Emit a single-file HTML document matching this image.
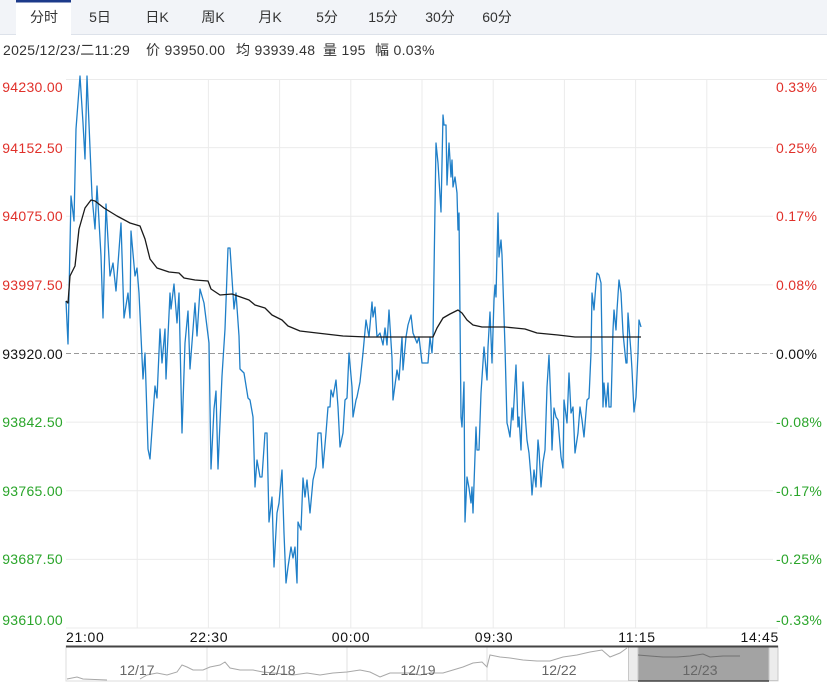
<!DOCTYPE html>
<html><head><meta charset="utf-8"><style>
html,body{margin:0;padding:0;background:#fff;}
svg{display:block;}
text{font-family:"Liberation Sans","Noto Sans CJK SC",sans-serif;}
</style></head><body>
<svg width="827" height="686" viewBox="0 0 827 686" xmlns="http://www.w3.org/2000/svg">
<!-- tab bar -->
<rect x="0" y="0" width="827" height="34" fill="#f2f4f8"/>
<line x1="0" y1="34.5" x2="827" y2="34.5" stroke="#dde2ea" stroke-width="1"/>
<rect x="16" y="0" width="55" height="35" fill="#fff"/>
<rect x="16" y="0" width="55" height="2.5" fill="#1c3a8a"/>
<g font-size="14" fill="#333" text-anchor="middle">
<text x="44" y="22">分时</text>
<text x="100" y="22">5日</text>
<text x="157" y="22">日K</text>
<text x="213" y="22">周K</text>
<text x="270" y="22">月K</text>
<text x="327" y="22">5分</text>
<text x="383" y="22">15分</text>
<text x="440" y="22">30分</text>
<text x="497" y="22">60分</text>
</g>
<!-- info line -->
<g font-size="14" fill="#333">
<text x="3" y="55" letter-spacing="0.3">2025/12/23/二11:29</text>
<text x="146" y="55" letter-spacing="0.3">价 93950.00</text>
<text x="236" y="55" letter-spacing="0.3">均 93939.48</text>
<text x="323" y="55" letter-spacing="0.3">量 195</text>
<text x="375" y="55" letter-spacing="0.3">幅 0.03%</text>
</g>
<!-- grid -->
<g stroke="#ebebeb" stroke-width="1">
<line x1="66" y1="79.5" x2="827" y2="79.5"/>
<line x1="66" y1="147.6" x2="773" y2="147.6"/>
<line x1="66" y1="216.3" x2="773" y2="216.3"/>
<line x1="66" y1="284.9" x2="773" y2="284.9"/>
<line x1="66" y1="422.1" x2="773" y2="422.1"/>
<line x1="66" y1="490.8" x2="773" y2="490.8"/>
<line x1="66" y1="559.4" x2="773" y2="559.4"/>
<line x1="66" y1="628" x2="778" y2="628"/>
<line x1="137.2" y1="79" x2="137.2" y2="628"/>
<line x1="208.4" y1="79" x2="208.4" y2="628"/>
<line x1="279.6" y1="79" x2="279.6" y2="628"/>
<line x1="350.8" y1="79" x2="350.8" y2="628"/>
<line x1="422" y1="79" x2="422" y2="628"/>
<line x1="493.2" y1="79" x2="493.2" y2="628"/>
<line x1="564.4" y1="79" x2="564.4" y2="628"/>
<line x1="635.6" y1="79" x2="635.6" y2="628"/>
<line x1="706.8" y1="79" x2="706.8" y2="628"/>
</g>
<line x1="66" y1="353.5" x2="773" y2="353.5" stroke="#999" stroke-width="1" stroke-dasharray="5,3"/>
<!-- price line -->
<polyline fill="none" stroke="#1f7fc8" stroke-width="1.3" stroke-linejoin="round" points="66,301 68,344 71,196 74,221 76,129 80,76 83,123 85,159 87,76 92,196 95,229 97,186 101,256 103,318 106,204 110,276 113,263 116,291 121,223 124,318 128,293 130,318 131,231 135,276 137,268 139,293 143,379 145,353 148,449 150,459 155,386 157,398 160,329 162,363 165,329 166,379 170,293 171,309 174,284 177,323 179,293 182,433 185,343 188,311 190,369 195,303 197,336 200,289 204,303 209,343 211,469 214,409 216,391 218,469 222,376 225,329 228,248 230,248 234,309 236,293 239,336 240,369 244,373 248,398 250,400 253,417 255,487 257,460 260,477 262,477 265,433 267,433 269,522 272,497 274,567 277,513 279,503 282,470 284,533 286,583 288,567 291,547 293,558 295,547 297,583 298,522 301,530 303,478 305,497 307,480 310,513 313,480 316,467 318,433 321,433 323,468 326,433 328,407 330,407 331,390 333,397 336,380 338,407 340,447 343,433 345,400 347,398 349,353 352,387 353,417 356,400 357,397 360,382 363,353 366,320 369,337 372,302 373,317 375,307 377,337 380,333 383,345 385,328 387,345 389,310 392,358 393,400 397,370 399,380 402,337 403,370 406,337 408,325 411,315 413,333 417,343 419,337 422,363 425,363 428,363 430,337 432,353 433,337 436,143 438,163 441,212 443,115 444,125 446,125 447,185 449,143 451,177 452,160 453,187 455,177 457,193 458,230 459,213 461,417 462,427 464,382 465,522 467,477 469,488 471,503 472,487 473,513 476,427 477,450 479,450 481,393 484,347 487,380 488,347 490,312 492,363 494,300 495,285 496,297 498,213 499,257 501,240 502,255 505,347 507,423 508,427 510,437 512,408 513,420 516,365 518,427 519,417 521,450 523,382 525,413 527,440 529,453 531,477 532,495 534,470 536,487 538,440 539,450 541,487 543,462 545,450 547,387 549,355 551,407 552,450 554,408 556,417 558,420 561,457 563,468 564,400 567,423 569,373 571,413 573,407 575,453 578,433 580,407 582,420 584,437 587,400 589,398 591,353 592,293 594,310 596,283 597,273 599,275 601,283 603,407 604,383 606,407 608,383 609,407 611,407 613,330 614,310 616,330 617,310 619,280 621,293 623,333 624,343 626,363 627,363 628,313 631,353 632,370 634,412 636,397 638,353 639,320 641,327"/>
<!-- average line -->
<polyline fill="none" stroke="#1a1a1a" stroke-width="1.3" stroke-linejoin="round" points="66,301 68,303 70,276 75,266 79,229 85,208 91,200 95,201 104,208 117,216 130,223 140,226 145,239 150,259 157,268 169,272 179,273 184,278 195,280 208,281 211,289 220,295 232,294 249,300 255,305 265,308 272,315 282,320 288,326 300,331 317,333 343,336 367,337 433,337 437,328 443,318 450,314 458,310 462,313 467,320 473,325 482,327 492,327 505,327 515,328 525,329 537,333 558,335 575,337 592,337 598,337 641,337"/>
<!-- left axis labels -->
<g font-size="14" text-anchor="end" letter-spacing="0.3">
<text x="63" y="92" fill="#e0302a">94230.00</text>
<text x="63" y="153" fill="#e0302a">94152.50</text>
<text x="63" y="221" fill="#e0302a">94075.00</text>
<text x="63" y="290" fill="#e0302a">93997.50</text>
<text x="63" y="359" fill="#111">93920.00</text>
<text x="63" y="427" fill="#2aa52a">93842.50</text>
<text x="63" y="496" fill="#2aa52a">93765.00</text>
<text x="63" y="564" fill="#2aa52a">93687.50</text>
<text x="63" y="625" fill="#2aa52a">93610.00</text>
</g>
<!-- right axis labels -->
<g font-size="14" letter-spacing="0.3">
<text x="776" y="92" fill="#e0302a">0.33%</text>
<text x="776" y="153" fill="#e0302a">0.25%</text>
<text x="776" y="221" fill="#e0302a">0.17%</text>
<text x="776" y="290" fill="#e0302a">0.08%</text>
<text x="776" y="359" fill="#111">0.00%</text>
<text x="776" y="427" fill="#2aa52a">-0.08%</text>
<text x="776" y="496" fill="#2aa52a">-0.17%</text>
<text x="776" y="564" fill="#2aa52a">-0.25%</text>
<text x="776" y="625" fill="#2aa52a">-0.33%</text>
</g>
<!-- time axis -->
<g font-size="14" fill="#111" letter-spacing="0.7">
<text x="66" y="642">21:00</text>
<text x="209" y="642" text-anchor="middle">22:30</text>
<text x="351" y="642" text-anchor="middle">00:00</text>
<text x="494" y="642" text-anchor="middle">09:30</text>
<text x="637" y="642" text-anchor="middle">11:15</text>
<text x="779" y="642" text-anchor="end">14:45</text>
</g>
<!-- navigator -->
<rect x="66" y="646" width="712" height="35" fill="#fff" stroke="#ddd" stroke-width="1"/>
<g stroke="#e2e2e2" stroke-width="1">
<line x1="207" y1="647" x2="207" y2="681"/>
<line x1="347" y1="647" x2="347" y2="681"/>
<line x1="487" y1="647" x2="487" y2="681"/>
</g>
<rect x="638" y="647" width="131" height="34" fill="#a3a3a3"/>
<rect x="628.5" y="646.5" width="9.5" height="34" fill="#ececec" stroke="#c8c8c8" stroke-width="1"/>
<rect x="769" y="646.5" width="9" height="34" fill="#ececec" stroke="#c8c8c8" stroke-width="1"/>
<line x1="66" y1="646.5" x2="778" y2="646.5" stroke="#444" stroke-width="2"/>
<line x1="638" y1="681" x2="769" y2="681" stroke="#444" stroke-width="1.5"/>
<polyline fill="none" stroke="#a8a8a8" stroke-width="1" points="67,679 77,677 83,679 107,680"/>
<polyline fill="none" stroke="#a8a8a8" stroke-width="1" points="140,679 147,675 157,673 167,675 177,672 182,665 187,667 193,670 203,670 210,667 220,665 225,662 230,668 240,670 253,670 263,672 273,673 283,674 293,675 307,673 320,675 333,673 347,672 360,670 370,672 380,677 390,673 400,673 410,673 420,675 430,673 443,673 453,670 463,667 473,663 482,662 487,667 490,655 500,657 510,658 523,660 537,661 550,661 563,657 577,655 590,652 602,650 610,657 620,653 627,648"/>
<polyline fill="none" stroke="#707070" stroke-width="1" points="638,655 650,656 663,657 677,657 690,656 703,654 710,657 723,656 740,656"/>
<g font-size="14" fill="#666" text-anchor="middle">
<text x="137" y="675">12/17</text>
<text x="278" y="675">12/18</text>
<text x="418" y="675">12/19</text>
<text x="559" y="675">12/22</text>
<text x="700" y="675">12/23</text>
</g>
</svg>
</body></html>
